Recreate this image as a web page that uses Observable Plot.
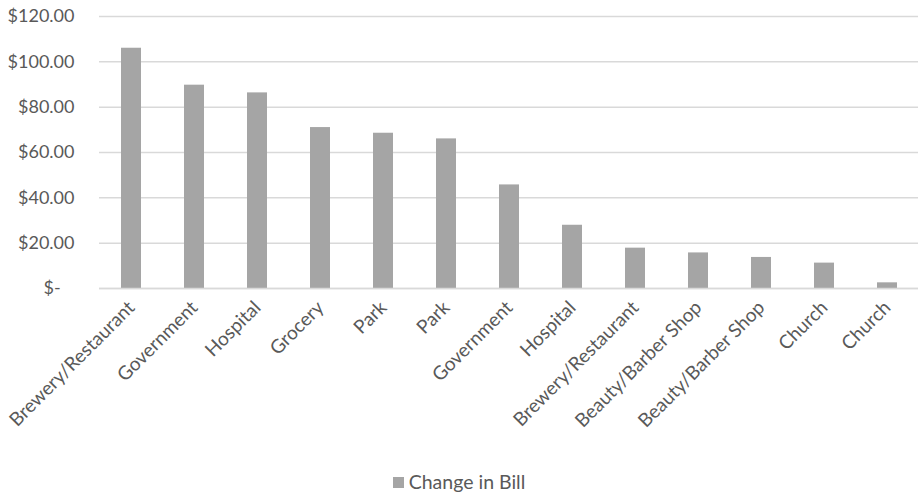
<!DOCTYPE html>
<html>
<head>
<meta charset="utf-8">
<script src="https://cdn.jsdelivr.net/npm/d3@7"></script>
<script src="https://cdn.jsdelivr.net/npm/@observablehq/plot@0.6"></script>
<style>
  body { margin: 0; background: #fff; font-family: Lato, sans-serif; }
  #legend { text-align: center; font-size: 19.5px; color: #595959; margin-top: 2px; line-height: 24px; }
  #legend .sw { display: inline-block; width: 11px; height: 11px; background: #a5a5a5; margin-right: 5px; vertical-align: 1px; }
</style>
</head>
<body>
<div id="chart"></div>
<div id="legend"><span class="sw"></span>Change in Bill</div>
<script>
const categories = ["Brewery/Restaurant","Government","Hospital","Grocery","Park","Park","Government","Hospital","Brewery/Restaurant","Beauty/Barber Shop","Beauty/Barber Shop","Church","Church"];
const changeInBill = [106, 89.7, 86.3, 71.0, 68.5, 66.0, 45.7, 27.9, 17.8, 15.7, 13.7, 11.2, 2.5];
const yTicks = [0, 20, 40, 60, 80, 100, 120];

const data = categories.map((c, i) => ({i, c, v: changeInBill[i]}));
const fmt = v => v === 0 ? "$-\u00a0\u00a0\u00a0" : "$" + v.toFixed(2);

const chart = Plot.plot({
  width: 918,
  height: 468,
  marginTop: 16,
  marginLeft: 99,
  marginRight: 0,
  marginBottom: 180,
  style: {fontFamily: "Lato, sans-serif", fontSize: "18px", color: "#595959", background: "#fff"},
  x: {domain: d3.range(categories.length), paddingInner: 0.69, paddingOuter: 0.345, label: null},
  y: {domain: [0, 120], label: null},
  marks: [
    Plot.gridY(yTicks, {stroke: "#d9d9d9", strokeOpacity: 1, strokeWidth: 1.5}),
    Plot.barY(data, {x: "i", y: "v", fill: "#a5a5a5"}),
    Plot.ruleY([0], {stroke: "#d9d9d9", strokeWidth: 1.5}),
    Plot.axisY(yTicks, {tickSize: 0, tickPadding: 25, tickFormat: fmt, fill: "#595959"}),
    Plot.axisX({tickSize: 0, tickRotate: -45, tickPadding: 16, fontSize: 19, tickFormat: i => categories[i], fill: "#595959"})
  ]
});
document.getElementById("chart").appendChild(chart);
</script>
</body>
</html>
